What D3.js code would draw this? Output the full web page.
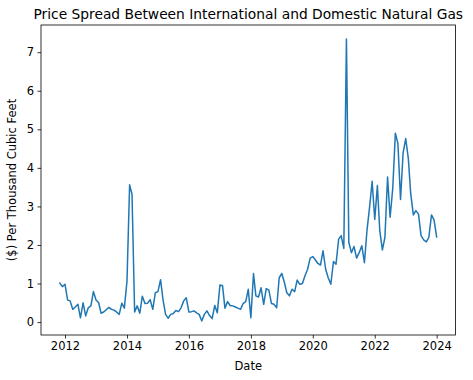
<!DOCTYPE html>
<html>
<head>
<meta charset="utf-8">
<script src="https://cdn.jsdelivr.net/npm/d3@7"></script>
<style>
  html, body { margin: 0; padding: 0; background: #fff; }
  text { font-family: "DejaVu Sans", sans-serif; fill: #000; }
</style>
</head>
<body>
<svg id="chart" width="473" height="380"></svg>
<script>
// ---- data ----
const title = "Price Spread Between International and Domestic Natural Gas";
const xLabel = "Date";
const yLabel = "($) Per Thousand Cubic Feet";
const startMonth = "2011-11";
// monthly spread values, Nov 2011 .. Jan 2024
const spread = [
  1.01, 0.92,
  0.98, 0.57, 0.55, 0.33, 0.39, 0.46, 0.11, 0.50, 0.16, 0.37, 0.42, 0.79,
  0.57, 0.50, 0.23, 0.26, 0.32, 0.38, 0.33, 0.31, 0.26, 0.20, 0.49, 0.36,
  1.07, 3.56, 3.32, 0.26, 0.42, 0.23, 0.67, 0.48, 0.49, 0.58, 0.33, 0.76,
  0.79, 1.10, 0.59, 0.20, 0.10, 0.20, 0.22, 0.30, 0.27, 0.37, 0.55, 0.63,
  0.26, 0.27, 0.29, 0.24, 0.20, 0.03, 0.20, 0.29, 0.17, 0.09, 0.43, 0.24,
  0.96, 0.94, 0.36, 0.53, 0.43, 0.42, 0.39, 0.36, 0.33, 0.48, 0.53, 0.85,
  0.11, 1.26, 0.68, 0.65, 0.89, 0.46, 0.87, 0.83, 0.48, 0.46, 0.37, 1.15,
  1.26, 1.02, 0.76, 0.68, 0.85, 0.79, 1.09, 0.98, 1.00, 1.20, 1.37, 1.66,
  1.70, 1.61, 1.52, 1.48, 1.85, 1.37, 1.15, 0.98, 1.57, 1.50, 2.15, 2.24,
  1.91, 7.34, 2.07, 1.80, 1.96, 1.66, 1.80, 1.98, 1.54, 2.37, 2.98, 3.65,
  2.66, 3.54, 2.37, 1.87, 2.20, 3.76, 2.72, 3.46, 4.90, 4.63, 3.18, 4.38,
  4.76, 4.24, 3.33, 2.78, 2.89, 2.80, 2.24, 2.13, 2.08, 2.20, 2.78, 2.65,
  2.21
];
const xTickYears = [2012, 2014, 2016, 2018, 2020, 2022, 2024];
const yTicks = [0, 1, 2, 3, 4, 5, 6, 7];

// ---- build ----
const parseMonth = d3.timeParse("%Y-%m");
const start = parseMonth(startMonth);
const data = spread.map((v, i) => ({ date: d3.timeMonth.offset(start, i), value: v }));

const svg = d3.select("#chart");
const plot = { left: 41, right: 455.5, top: 25, bottom: 335 };

function padDomain(ext, frac) {
  const span = ext[1] - ext[0];
  return [ext[0] - span * frac, ext[1] + span * frac];
}
const tExt = d3.extent(data, d => +d.date);
const tDom = padDomain(tExt, 0.05);
const x = d3.scaleTime().domain([new Date(tDom[0]), new Date(tDom[1])]).range([plot.left, plot.right]);
const y = d3.scaleLinear().domain(padDomain(d3.extent(data, d => d.value), 0.05)).range([plot.bottom, plot.top]);

const fontSize = 11.5;

// line
const line = d3.line().x(d => x(d.date)).y(d => y(d.value));
svg.append("path")
  .datum(data)
  .attr("fill", "none")
  .attr("stroke", "#1f77b4")
  .attr("stroke-width", 1.5)
  .attr("stroke-linejoin", "round")
  .attr("stroke-linecap", "square")
  .attr("d", line);

// axes
const xAxis = d3.axisBottom(x)
  .tickValues(xTickYears.map(yr => new Date(yr, 0, 1)))
  .tickFormat(d3.timeFormat("%Y"))
  .tickSizeInner(3.5).tickSizeOuter(0).tickPadding(3);
const gx = svg.append("g").attr("transform", `translate(0,${plot.bottom})`).call(xAxis);

const yAxis = d3.axisLeft(y)
  .tickValues(yTicks)
  .tickFormat(d3.format("d"))
  .tickSizeInner(3.5).tickSizeOuter(0).tickPadding(3.5);
const gy = svg.append("g").attr("transform", `translate(${plot.left},0)`).call(yAxis);

[gx, gy].forEach(g => {
  g.select(".domain").remove();
  g.selectAll(".tick line").attr("stroke", "#000").attr("stroke-width", 0.8);
  g.selectAll(".tick text").attr("font-size", fontSize).attr("font-family", "DejaVu Sans").attr("fill", "#000");
});

// frame
svg.append("rect")
  .attr("x", plot.left).attr("y", plot.top)
  .attr("width", plot.right - plot.left).attr("height", plot.bottom - plot.top)
  .attr("fill", "none").attr("stroke", "#000").attr("stroke-width", 0.8);

// title & labels
svg.append("text")
  .attr("x", (plot.left + plot.right) / 2).attr("y", 19)
  .attr("text-anchor", "middle").attr("font-size", 13.8)
  .text(title);

svg.append("text")
  .attr("x", (plot.left + plot.right) / 2).attr("y", 370)
  .attr("text-anchor", "middle").attr("font-size", fontSize)
  .text(xLabel);

svg.append("text")
  .attr("transform", `translate(16,${(plot.top + plot.bottom) / 2}) rotate(-90)`)
  .attr("text-anchor", "middle").attr("font-size", fontSize)
  .text(yLabel);
</script>
</body>
</html>
